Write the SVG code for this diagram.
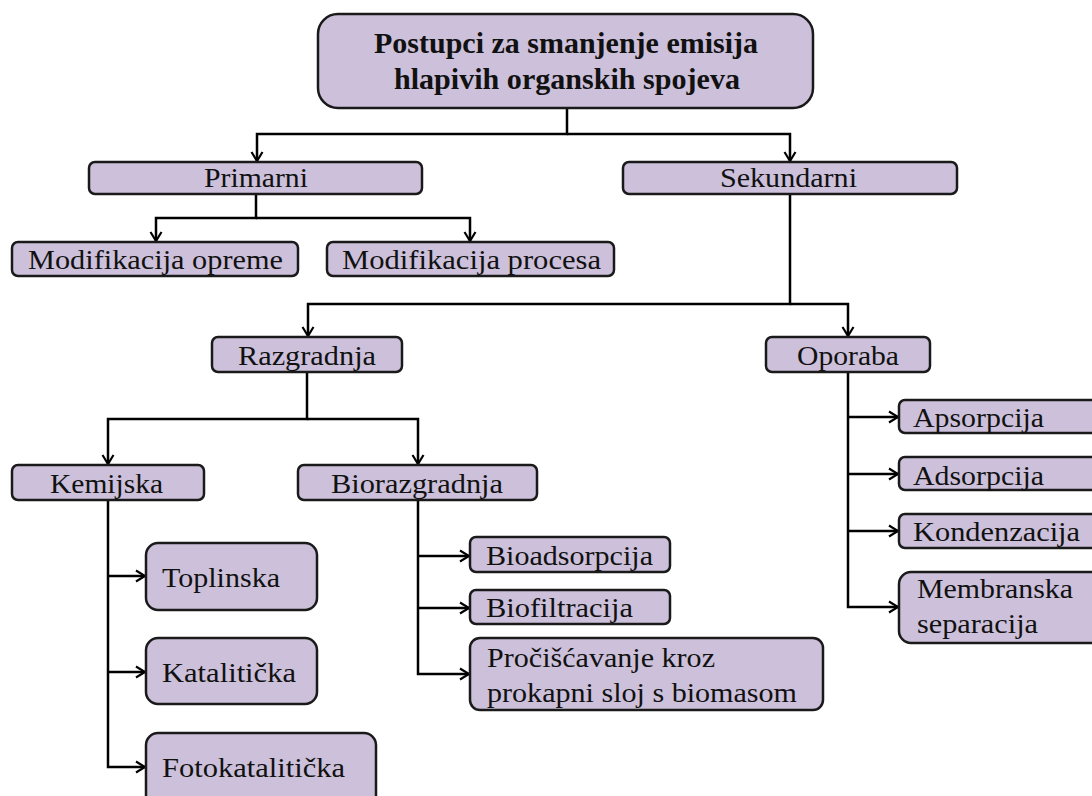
<svg xmlns="http://www.w3.org/2000/svg" width="1092" height="796" viewBox="0 0 1092 796">
<defs>
<marker id="arr" markerUnits="userSpaceOnUse" markerWidth="14" markerHeight="14" viewBox="0 0 14 14" refX="12" refY="7" orient="auto">
<path d="M3,1.5 L12,7 L3,12.5" fill="none" stroke="#000" stroke-width="2.2"/>
</marker>
</defs>
<style>
.b{fill:#ccc0da;stroke:#1a1a1a;stroke-width:2.5}
.t{font-family:"Liberation Serif","Times New Roman",serif;font-size:27px;fill:#111}
.h{font-family:"Liberation Serif","Times New Roman",serif;font-size:29px;font-weight:bold;fill:#111}
.c{fill:none;stroke:#000;stroke-width:2.5}
</style>
<rect width="1092" height="796" fill="#fff"/>
<g id="connectors">
<path class="c" d="M567,108 V134 H257 V161" marker-end="url(#arr)"/>
<path class="c" d="M567,134 H790 V161" marker-end="url(#arr)"/>
<path class="c" d="M256,194 V218 H156 V241" marker-end="url(#arr)"/>
<path class="c" d="M256,218 H470 V241" marker-end="url(#arr)"/>
<path class="c" d="M790,194 V304 H308 V336" marker-end="url(#arr)"/>
<path class="c" d="M790,304 H848 V336" marker-end="url(#arr)"/>
<path class="c" d="M307,372 V419 H108 V464" marker-end="url(#arr)"/>
<path class="c" d="M307,419 H418 V464" marker-end="url(#arr)"/>
<path class="c" d="M108,500 V767 H145" marker-end="url(#arr)"/>
<path class="c" d="M108,576 H145" marker-end="url(#arr)"/>
<path class="c" d="M108,672 H145" marker-end="url(#arr)"/>
<path class="c" d="M418,500 V674 H469" marker-end="url(#arr)"/>
<path class="c" d="M418,556 H469" marker-end="url(#arr)"/>
<path class="c" d="M418,608 H469" marker-end="url(#arr)"/>
<path class="c" d="M848,372 V607 H898" marker-end="url(#arr)"/>
<path class="c" d="M848,417 H898" marker-end="url(#arr)"/>
<path class="c" d="M848,474 H898" marker-end="url(#arr)"/>
<path class="c" d="M848,531 H898" marker-end="url(#arr)"/>
</g>
<g id="root">
<rect class="b" x="318" y="14" width="495" height="94" rx="20"/>
<text class="h" x="374" y="53" textLength="384" lengthAdjust="spacingAndGlyphs">Postupci za smanjenje emisija</text>
<text class="h" x="394" y="89" textLength="346" lengthAdjust="spacingAndGlyphs">hlapivih organskih spojeva</text>
</g>
<g id="primarni">
<rect class="b" x="89" y="162" width="333" height="32" rx="6"/>
<text class="t" x="204" y="187" textLength="104" lengthAdjust="spacingAndGlyphs">Primarni</text>
</g>
<g id="sekundarni">
<rect class="b" x="623" y="162" width="334" height="32" rx="6"/>
<text class="t" x="720" y="187" textLength="137" lengthAdjust="spacingAndGlyphs">Sekundarni</text>
</g>
<g id="mod-opreme">
<rect class="b" x="12" y="242" width="286" height="34" rx="6"/>
<text class="t" x="28" y="269" textLength="255" lengthAdjust="spacingAndGlyphs">Modifikacija opreme</text>
</g>
<g id="mod-procesa">
<rect class="b" x="327" y="242" width="287" height="34" rx="6"/>
<text class="t" x="342" y="269" textLength="259" lengthAdjust="spacingAndGlyphs">Modifikacija procesa</text>
</g>
<g id="razgradnja">
<rect class="b" x="212" y="337" width="190" height="35" rx="6"/>
<text class="t" x="238" y="365" textLength="138" lengthAdjust="spacingAndGlyphs">Razgradnja</text>
</g>
<g id="oporaba">
<rect class="b" x="766" y="337" width="164" height="35" rx="6"/>
<text class="t" x="797" y="365" textLength="102" lengthAdjust="spacingAndGlyphs">Oporaba</text>
</g>
<g id="kemijska">
<rect class="b" x="12" y="465" width="192" height="35" rx="6"/>
<text class="t" x="50" y="493" textLength="113" lengthAdjust="spacingAndGlyphs">Kemijska</text>
</g>
<g id="biorazgradnja">
<rect class="b" x="298" y="465" width="239" height="35" rx="6"/>
<text class="t" x="331" y="493" textLength="172" lengthAdjust="spacingAndGlyphs">Biorazgradnja</text>
</g>
<g id="toplinska">
<rect class="b" x="146" y="543" width="171" height="67" rx="12"/>
<text class="t" x="162" y="587" textLength="118" lengthAdjust="spacingAndGlyphs">Toplinska</text>
</g>
<g id="katalitička">
<rect class="b" x="146" y="638" width="171" height="66" rx="12"/>
<text class="t" x="162" y="682" textLength="134" lengthAdjust="spacingAndGlyphs">Katalitička</text>
</g>
<g id="fotokatalitička">
<rect class="b" x="146" y="733" width="230" height="80" rx="12"/>
<text class="t" x="162" y="777" textLength="183" lengthAdjust="spacingAndGlyphs">Fotokatalitička</text>
</g>
<g id="bioadsorpcija">
<rect class="b" x="470" y="537" width="200" height="35" rx="6"/>
<text class="t" x="486" y="565" textLength="167" lengthAdjust="spacingAndGlyphs">Bioadsorpcija</text>
</g>
<g id="biofiltracija">
<rect class="b" x="470" y="590" width="200" height="34" rx="6"/>
<text class="t" x="486" y="617" textLength="147" lengthAdjust="spacingAndGlyphs">Biofiltracija</text>
</g>
<g id="prociscavanje">
<rect class="b" x="470" y="638" width="353" height="72" rx="10"/>
<text class="t" x="487" y="667" textLength="228" lengthAdjust="spacingAndGlyphs">Pročišćavanje kroz</text>
<text class="t" x="487" y="702" textLength="310" lengthAdjust="spacingAndGlyphs">prokapni sloj s biomasom</text>
</g>
<g id="apsorpcija">
<rect class="b" x="899" y="400" width="210" height="33" rx="6"/>
<text class="t" x="913" y="427" textLength="131" lengthAdjust="spacingAndGlyphs">Apsorpcija</text>
</g>
<g id="adsorpcija">
<rect class="b" x="899" y="457" width="210" height="33" rx="6"/>
<text class="t" x="913" y="485" textLength="131" lengthAdjust="spacingAndGlyphs">Adsorpcija</text>
</g>
<g id="kondenzacija">
<rect class="b" x="899" y="514" width="210" height="34" rx="6"/>
<text class="t" x="913" y="541" textLength="167" lengthAdjust="spacingAndGlyphs">Kondenzacija</text>
</g>
<g id="membranska">
<rect class="b" x="899" y="572" width="210" height="71" rx="12"/>
<text class="t" x="917" y="598" textLength="156" lengthAdjust="spacingAndGlyphs">Membranska</text>
<text class="t" x="917" y="633" textLength="121" lengthAdjust="spacingAndGlyphs">separacija</text>
</g>
</svg>
